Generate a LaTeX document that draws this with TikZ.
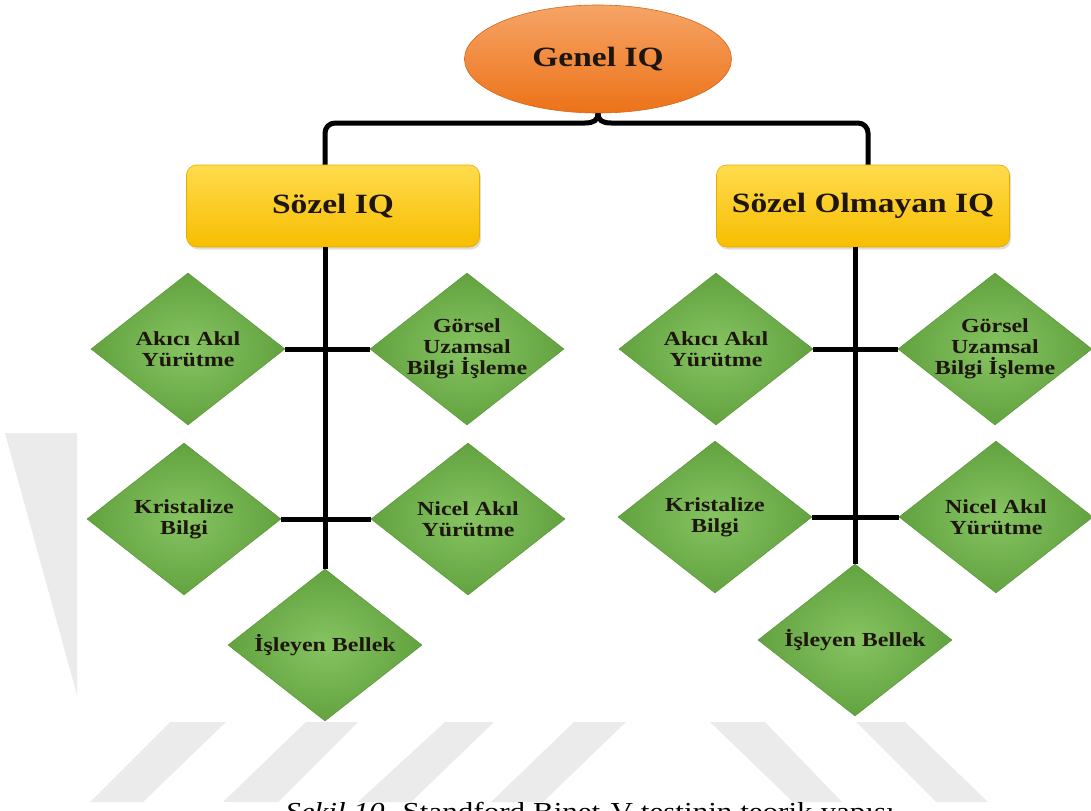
\documentclass[tikz,border=0pt]{standalone}
\usepackage{fontspec}
\setmainfont{Liberation Serif}
\newfontfamily\figfont[FakeStretch=1.2]{Liberation Serif}
\usetikzlibrary{shapes.geometric,calc,shadows}

\definecolor{orangeTop}{HTML}{F6A466}
\definecolor{orangeBot}{HTML}{EC7218}
\definecolor{orangeEdge}{HTML}{D2691E}
\definecolor{goldTop}{HTML}{FFDB4D}
\definecolor{goldBot}{HTML}{F7BE00}
\definecolor{goldEdge}{HTML}{E2AE00}
\definecolor{leafIn}{HTML}{86C462}
\definecolor{leafOut}{HTML}{62A23F}
\definecolor{leafEdge}{HTML}{5C9438}
\definecolor{markgray}{HTML}{EBEBEB}
\definecolor{ink}{HTML}{1E160E}

\tikzset{
  conn/.style={line width=5bp, draw=black},
  rootnode/.style={ellipse, minimum width=267bp, minimum height=108bp,
    inner sep=0pt, draw=orangeEdge, line width=0.6bp,
    top color=orangeTop, bottom color=orangeBot, text=ink,
    font=\figfont\bfseries\fontsize{28}{30}\selectfont},
  branch/.style={rectangle, rounded corners=10bp, minimum width=293bp,
    minimum height=82bp, inner sep=0pt, draw=goldEdge, line width=0.6bp,
    top color=goldTop, bottom color=goldBot, text=ink,
    drop shadow={shadow xshift=1.5bp, shadow yshift=-2.5bp, opacity=.25},
    font=\figfont\bfseries\fontsize{28}{30}\selectfont},
  leaf/.style={diamond, minimum width=194bp, minimum height=152bp,
    inner sep=0pt, draw=leafEdge, line width=0.5bp,
    inner color=leafIn, outer color=leafOut},
  dtext/.style={font=\figfont\bfseries\fontsize{20}{21}\selectfont,
    text=ink, align=center, inner sep=0pt},
}

\begin{document}
\begin{tikzpicture}[x=1bp, y=-1bp]
\useasboundingbox (0,0) rectangle (1091,811);
\clip (0,0) rectangle (1091,811);
\fill[white] (0,0) rectangle (1091,811);

% page watermark stripes
\fill[markgray] (5,433) -- (77,433) -- (77,695) -- cycle;
\fill[markgray] (170,722) -- (226,722) -- (143,802) -- (90,802) -- cycle;
\fill[markgray] (306,722) -- (358,722) -- (278,802) -- (223,802) -- cycle;
\fill[markgray] (445,722) -- (494,722) -- (411,802) -- (358,802) -- cycle;
\fill[markgray] (574,722) -- (626,722) -- (543,802) -- (491,802) -- cycle;
\fill[markgray] (710,722) -- (765,722) -- (842,802) -- (793,802) -- cycle;
\fill[markgray] (856,722) -- (905,722) -- (988,802) -- (936,802) -- cycle;

% top level and branches
\node[rootnode] (ge) at (598,59) {Genel IQ};
\node[branch] (sv) at (333,206) {Sözel IQ};
\node[branch] (snv) at (863,206) {Sözel Olmayan IQ};

% left group
\node[leaf, label={[dtext, name=la-t]center:{Akıcı Akıl\\Yürütme}}] (la) at (188,349) {};
\node[leaf, label={[dtext, name=lg-t]center:{Görsel\\Uzamsal\\Bilgi İşleme}}] (lg) at (467,349) {};
\node[leaf, label={[dtext, name=lk-t]center:{Kristalize\\Bilgi}}] (lk) at (184,519) {};
\node[leaf, label={[dtext, name=ln-t]center:{Nicel Akıl\\Yürütme}}] (ln) at (468,519) {};
\node[leaf, label={[dtext, name=lb-t]center:{İşleyen Bellek}}] (lb) at (325,645) {};

% right group
\node[leaf, label={[dtext, name=ra-t]center:{Akıcı Akıl\\Yürütme}}] (ra) at (716,349) {};
\node[leaf, label={[dtext, name=rg-t]center:{Görsel\\Uzamsal\\Bilgi İşleme}}] (rg) at (995,349) {};
\node[leaf, label={[dtext, name=rk-t]center:{Kristalize\\Bilgi}}] (rk) at (715,517) {};
\node[leaf, label={[dtext, name=rn-t]center:{Nicel Akıl\\Yürütme}}] (rn) at (996,517) {};
\node[leaf, label={[dtext, name=rb-t]center:{İşleyen Bellek}}] (rb) at (855,640) {};

% bracket from the root to both branches
\coordinate (bracketL) at (325,123);
\coordinate (bracketR) at (868,123);
\coordinate (notchL) at (585,123);
\coordinate (notchR) at (611,123);
\draw[conn] (ge.south) .. controls (598,120) and (594,123) .. (notchL)
  [rounded corners=10bp] -| (sv.north -| bracketL);
\draw[conn] (ge.south) .. controls (598,120) and (602,123) .. (notchR)
  [rounded corners=10bp] -| (snv.north -| bracketR);

% trunks
\draw[conn] (sv.south -| lb.north) -- (lb.north);
\draw[conn] (snv.south -| rb.north) -- (rb.north);

% cross bars
\draw[conn] (la.east) -- (lg.west);
\draw[conn] (lk.east) -- (ln.west);
\draw[conn] (ra.east) -- (rg.west);
\draw[conn] (rk.east) -- (rn.west);

% caption
\node[anchor=base, font=\figfont\fontsize{26}{28}\selectfont, inner sep=0pt]
  (cap) at (590,820) {\textit{Şekil 10.} Standford Binet-V testinin teorik yapısı};
\end{tikzpicture}
\end{document}
